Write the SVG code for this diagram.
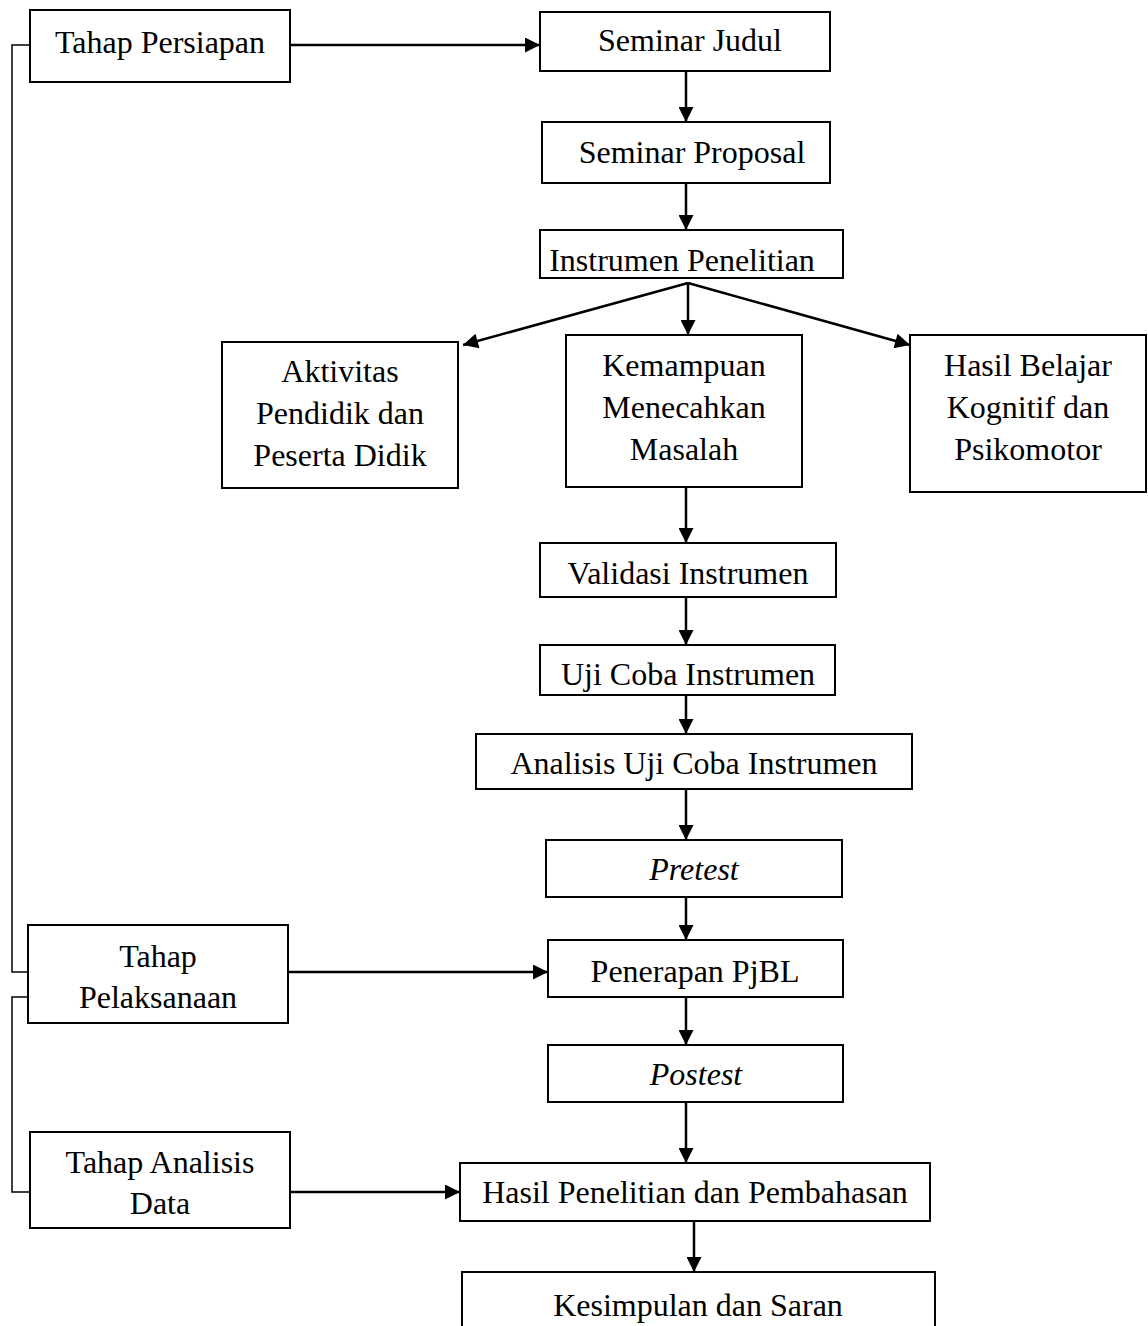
<svg xmlns="http://www.w3.org/2000/svg" width="1148" height="1326" viewBox="0 0 1148 1326">
<style>
.b{fill:#fff;stroke:#000;stroke-width:2}
.t{font-family:"Liberation Serif","Times New Roman",serif;font-size:32px;fill:#000;text-anchor:middle}
.i{font-style:italic}
.c{stroke:#000;stroke-width:2.5;fill:none}
.l{stroke:#000;stroke-width:1.5;fill:none}
</style>
<defs>
<marker id="a" viewBox="0 0 10 10" refX="10" refY="5" markerWidth="6.5" markerHeight="6" orient="auto" markerUnits="strokeWidth">
<path d="M0,0 L10,5 L0,10 z" fill="#000"/>
</marker>
</defs>
<rect width="1148" height="1326" fill="#fff"/>
<g id="connectors">
<path class="l" d="M30,45 H12 V972 H28"/>
<path class="l" d="M28,997 H12 V1192 H30"/>
<line class="c" x1="290" y1="45" x2="540" y2="45" marker-end="url(#a)"/>
<line class="c" x1="686" y1="71" x2="686" y2="122" marker-end="url(#a)"/>
<line class="c" x1="686" y1="183" x2="686" y2="230" marker-end="url(#a)"/>
<line class="c" x1="688" y1="283" x2="463" y2="345" marker-end="url(#a)"/>
<line class="c" x1="688" y1="283" x2="688" y2="335" marker-end="url(#a)"/>
<line class="c" x1="688" y1="283" x2="910" y2="345" marker-end="url(#a)"/>
<line class="c" x1="686" y1="487" x2="686" y2="543" marker-end="url(#a)"/>
<line class="c" x1="686" y1="597" x2="686" y2="645" marker-end="url(#a)"/>
<line class="c" x1="686" y1="695" x2="686" y2="734" marker-end="url(#a)"/>
<line class="c" x1="686" y1="789" x2="686" y2="840" marker-end="url(#a)"/>
<line class="c" x1="686" y1="897" x2="686" y2="940" marker-end="url(#a)"/>
<line class="c" x1="288" y1="972" x2="548" y2="972" marker-end="url(#a)"/>
<line class="c" x1="686" y1="997" x2="686" y2="1045" marker-end="url(#a)"/>
<line class="c" x1="686" y1="1102" x2="686" y2="1163" marker-end="url(#a)"/>
<line class="c" x1="290" y1="1192" x2="460" y2="1192" marker-end="url(#a)"/>
<line class="c" x1="694" y1="1212" x2="694" y2="1272" marker-end="url(#a)"/>
</g>
<g id="persiapan"><rect class="b" x="30" y="10" width="260" height="72"/><text class="t" x="160" y="53">Tahap Persiapan</text></g>
<g id="judul"><rect class="b" x="540" y="12" width="290" height="59"/><text class="t" x="690" y="51">Seminar Judul</text></g>
<g id="proposal"><rect class="b" x="542" y="122" width="288" height="61"/><text class="t" x="692" y="163">Seminar Proposal</text></g>
<g id="instrumen"><rect class="b" x="540" y="230" width="303" height="48"/><text class="t" x="682" y="271">Instrumen Penelitian</text></g>
<g id="aktivitas"><rect class="b" x="222" y="342" width="236" height="146"/><text class="t" x="340" y="382">Aktivitas</text><text class="t" x="340" y="424">Pendidik dan</text><text class="t" x="340" y="466">Peserta Didik</text></g>
<g id="kemampuan"><rect class="b" x="566" y="335" width="236" height="152"/><text class="t" x="684" y="376">Kemampuan</text><text class="t" x="684" y="418">Menecahkan</text><text class="t" x="684" y="460">Masalah</text></g>
<g id="hasilbelajar"><rect class="b" x="910" y="335" width="236" height="157"/><text class="t" x="1028" y="376">Hasil Belajar</text><text class="t" x="1028" y="418">Kognitif dan</text><text class="t" x="1028" y="460">Psikomotor</text></g>
<g id="validasi"><rect class="b" x="540" y="543" width="296" height="54"/><text class="t" x="688" y="584">Validasi Instrumen</text></g>
<g id="ujicoba"><rect class="b" x="540" y="645" width="295" height="50"/><text class="t" x="688" y="685">Uji Coba Instrumen</text></g>
<g id="analisis"><rect class="b" x="476" y="734" width="436" height="55"/><text class="t" x="694" y="774">Analisis Uji Coba Instrumen</text></g>
<g id="pretest"><rect class="b" x="546" y="840" width="296" height="57"/><text class="t i" x="694" y="880">Pretest</text></g>
<g id="penerapan"><rect class="b" x="548" y="940" width="295" height="57"/><text class="t" x="695" y="982">Penerapan PjBL</text></g>
<g id="pelaksanaan"><rect class="b" x="28" y="925" width="260" height="98"/><text class="t" x="158" y="967">Tahap</text><text class="t" x="158" y="1008">Pelaksanaan</text></g>
<g id="postest"><rect class="b" x="548" y="1045" width="295" height="57"/><text class="t i" x="696" y="1085">Postest</text></g>
<g id="analisisdata"><rect class="b" x="30" y="1132" width="260" height="96"/><text class="t" x="160" y="1173">Tahap Analisis</text><text class="t" x="160" y="1214">Data</text></g>
<g id="hasilpenelitian"><rect class="b" x="460" y="1163" width="470" height="58"/><text class="t" x="695" y="1203">Hasil Penelitian dan Pembahasan</text></g>
<g id="kesimpulan"><rect class="b" x="462" y="1272" width="473" height="70"/><text class="t" x="698" y="1316">Kesimpulan dan Saran</text></g>
</svg>
